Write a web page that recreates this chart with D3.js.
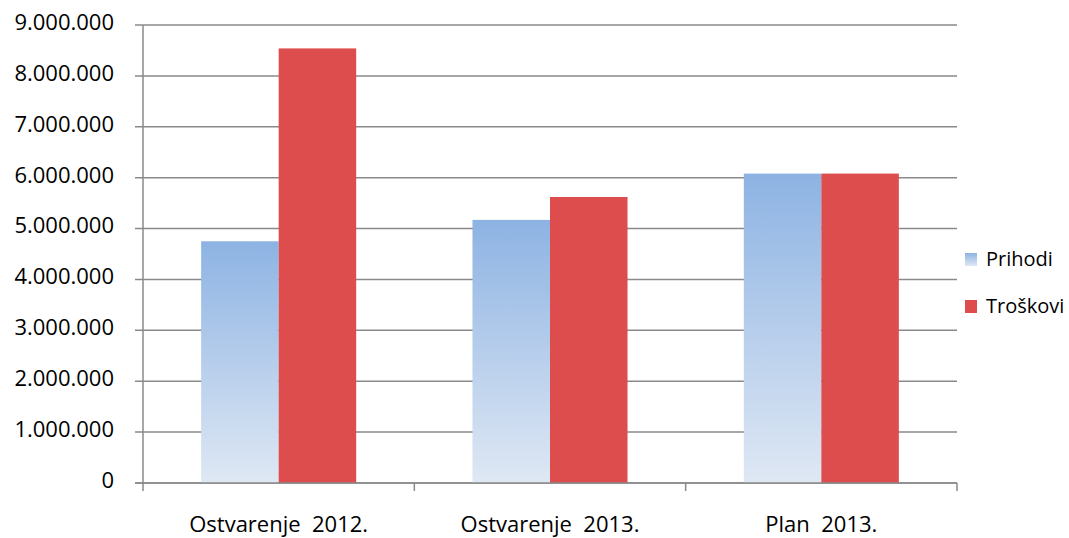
<!DOCTYPE html>
<html>
<head>
<meta charset="utf-8">
<script src="https://cdn.jsdelivr.net/npm/d3@7"></script>
<style>
  body { margin: 0; background: #fff; }
  text { font-family: "Open Sans", "Noto Sans", sans-serif; fill: #000; }
</style>
</head>
<body>
<svg id="chart"></svg>
<script>
let width = 1069;
let height = 538;

let categories = ["Ostvarenje  2012.", "Ostvarenje  2013.", "Plan  2013."];
let seriesNames = ["Prihodi", "Troškovi"];
let prihodi = [4750000, 5170000, 6080000];
let troskovi = [8540000, 5620000, 6080000];
let yTicks = [0, 1000000, 2000000, 3000000, 4000000, 5000000, 6000000, 7000000, 8000000, 9000000];

let plotLeft = 143, plotRight = 957, plotTop = 25, plotBottom = 483;

let svg = d3.select("#chart")
    .attr("width", width)
    .attr("height", height);

let defs = svg.append("defs");
let grad = defs.append("linearGradient")
    .attr("id", "blueGrad")
    .attr("x1", 0).attr("y1", 0).attr("x2", 0).attr("y2", 1);
grad.append("stop").attr("offset", "0%").attr("stop-color", "#8db3e3");
grad.append("stop").attr("offset", "100%").attr("stop-color", "#dfe8f4");

let y = d3.scaleLinear()
    .domain([0, 9000000])
    .range([plotBottom, plotTop]);

let x0 = d3.scaleBand()
    .domain(categories)
    .range([plotLeft, plotRight])
    .padding(0);

let x1 = d3.scaleBand()
    .domain(seriesNames)
    .range([0, x0.bandwidth()])
    .paddingInner(0)
    .paddingOuter(0.75);

let fmt = function (v) {
    return d3.format(",")(v).replace(/,/g, ".");
};

// gridlines
svg.append("g")
    .selectAll("line")
    .data(yTicks)
    .enter().append("line")
    .attr("x1", plotLeft - 8)
    .attr("x2", plotRight)
    .attr("y1", d => y(d))
    .attr("y2", d => y(d))
    .attr("stroke", "#8a8a8a")
    .attr("stroke-width", 1.5);

// y labels
svg.append("g")
    .selectAll("text")
    .data(yTicks)
    .enter().append("text")
    .attr("x", 114)
    .attr("y", d => y(d) - 3)
    .attr("dy", "0.36em")
    .attr("text-anchor", "end")
    .attr("font-size", 22)
    .text(d => fmt(d));

let rows = categories.map((c, i) => ({ cat: c, values: [prihodi[i], troskovi[i]] }));

let groups = svg.append("g")
    .selectAll("g")
    .data(rows)
    .enter().append("g")
    .attr("transform", d => "translate(" + x0(d.cat) + ",0)");

groups.selectAll("rect")
    .data(d => d.values.map((v, j) => ({ name: seriesNames[j], value: v })))
    .enter().append("rect")
    .attr("x", d => x1(d.name))
    .attr("width", x1.bandwidth())
    .attr("y", d => y(d.value))
    .attr("height", d => y(0) - y(d.value))
    .attr("fill", d => d.name === "Prihodi" ? "url(#blueGrad)" : "#de4d4d");

// axes lines
svg.append("line")
    .attr("x1", plotLeft).attr("x2", plotLeft)
    .attr("y1", plotTop).attr("y2", plotBottom + 8)
    .attr("stroke", "#8a8a8a").attr("stroke-width", 1.5);

svg.append("line")
    .attr("x1", plotLeft - 8).attr("x2", plotRight)
    .attr("y1", plotBottom).attr("y2", plotBottom)
    .attr("stroke", "#8a8a8a").attr("stroke-width", 1.5);

svg.append("g")
    .selectAll("line")
    .data(categories)
    .enter().append("line")
    .attr("x1", d => x0(d) + x0.bandwidth())
    .attr("x2", d => x0(d) + x0.bandwidth())
    .attr("y1", plotBottom)
    .attr("y2", plotBottom + 8)
    .attr("stroke", "#8a8a8a").attr("stroke-width", 1.5);

// category labels
svg.append("g")
    .selectAll("text")
    .data(categories)
    .enter().append("text")
    .attr("x", d => x0(d) + x0.bandwidth() / 2)
    .attr("y", 532)
    .attr("text-anchor", "middle")
    .attr("font-size", 22)
    .style("white-space", "pre")
    .text(d => d);

// legend
let legend = svg.append("g")
    .selectAll("g")
    .data(seriesNames)
    .enter().append("g")
    .attr("transform", (d, i) => "translate(965," + (253 + i * 47) + ")");

legend.append("rect")
    .attr("width", 12)
    .attr("height", 13)
    .attr("fill", d => d === "Prihodi" ? "url(#blueGrad)" : "#de4d4d");

legend.append("text")
    .attr("x", 21)
    .attr("y", 13)
    .attr("font-size", 20)
    .text(d => d);
</script>
</body>
</html>
